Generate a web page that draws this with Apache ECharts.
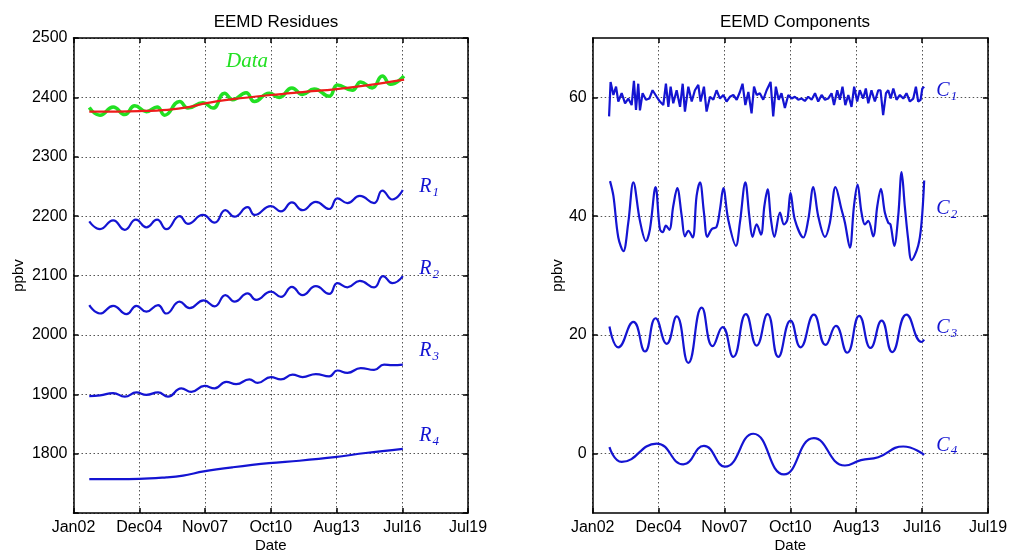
<!DOCTYPE html>
<html>
<head>
<meta charset="utf-8">
<script src="https://cdn.jsdelivr.net/npm/echarts@6/dist/echarts.min.js"></script>
<style>
html,body{margin:0;padding:0;background:#fff;}
#c{width:1010px;height:553px;}
</style>
</head>
<body>
<div id="c"></div>
<script>
// x axis: months since Jan 2002; tick every 35 months
const tickLabels = ['Jan02','Dec04','Nov07','Oct10','Aug13','Jul16','Jul19'];

// Left panel: EEMD residues (ppbv)
const dataObs = [[8.4,2383],[14.1,2370],[21.1,2384],[27.3,2371],[32.6,2386],[38.8,2376],[44.5,2384],[48.5,2370],[56.5,2393],[60.9,2382],[68.9,2391],[74.2,2382],[80.4,2407],[84.8,2396],[91.9,2408],[96.3,2393],[104.2,2407],[109.5,2400],[116.3,2416],[121.9,2405],[128.1,2414],[136.1,2402],[140.5,2421],[148.4,2412],[152.9,2426],[159.0,2416],[164.4,2436],[168.8,2422],[175.9,2436]];
const trend = [[8.4,2376],[35,2377],[50,2379],[62,2384],[70,2390],[85,2397],[105,2404],[122,2409],[140,2414],[158,2421],[176,2430]];
const R1 = [[8.4,2191],[14.1,2178],[21.1,2193],[27.3,2177],[33.2,2194],[38.8,2181],[44.5,2194],[49.4,2178],[56.5,2200],[60.9,2187],[68.9,2202],[75.1,2189],[80.9,2210],[85.7,2199],[92.7,2215],[96.3,2202],[105.1,2217],[110.4,2208],[116.3,2223],[121.9,2210],[129,2224],[136.1,2212],[140.5,2230],[145.8,2222],[152.4,2234],[160,2222],[164.4,2243],[169.7,2228],[175.3,2244]];
const R2 = [[8.4,2050],[14.1,2036],[21.1,2049],[28.2,2035],[33.5,2049],[38.8,2039],[45,2050],[49.4,2036],[56.5,2056],[61.8,2045],[69.3,2058],[75.1,2048],[80.9,2067],[85.7,2056],[92.7,2070],[97.2,2059],[105.1,2073],[110.4,2064],[116.3,2081],[121.9,2067],[129,2082],[136.1,2069],[140.5,2087],[145.8,2080],[152.4,2091],[160,2080],[164.8,2099],[169.7,2087],[175.3,2099]];
const R3 = [[8.4,1897],[14.1,1898],[21.1,1902],[27.3,1896],[33.5,1903],[38.8,1899],[45,1903],[50.3,1896],[57.4,1910],[62.7,1904],[69.8,1914],[75.1,1910],[81.3,1921],[86.6,1917],[93.6,1925],[98,1919],[105.1,1929],[110.4,1925],[116.6,1933],[121.9,1929],[129,1934],[136.1,1930],[140.5,1940],[145.8,1936],[152.9,1944],[160,1941],[165.3,1950],[169.7,1949],[175.3,1950]];
const R4 = [[8.4,1757],[35,1757.5],[49.4,1760],[58.3,1763],[69.3,1770],[84.8,1777],[104.1,1784],[120.2,1788],[139,1794],[155.5,1801],[175.3,1808]];

// Right panel: EEMD components (offset for display)
const c1Months = [8.7,9.5,11.0,12.4,13.6,15.4,17.2,18.9,20.7,21.9,23.0,24.2,25.1,26.5,28.3,30.1,31.8,34.0,35.7,37.5,38.9,40.2,41.4,42.8,44.6,46.4,47.8,49.0,50.8,52.6,54.3,56.1,57.3,59.1,60.5,62.3,64.1,65.8,67.6,69.4,71.1,72.9,74.7,76.5,78.2,79.6,81.1,82.7,84.4,85.7,87.1,88.8,90.6,92.4,94.5,95.9,97.3,98.8,100.3,102.1,103.9,105.7,107.4,109.2,111.0,112.7,114.5,116.3,118.1,119.8,121.6,123.4,125.1,126.9,128.2,129.9,131.3,132.7,134.2,135.8,137.5,138.9,140.5,141.9,143.7,145.1,146.4,148.1,149.9,151.7,152.9,154.3,155.8,157.0,158.3,159.7,161.4,163.2,165.0,166.7,168.5,170.3,171.7,172.9,174.2,175.1,176.1];
const c1Values = [56.8,62.6,60.4,61.8,59.3,60.7,59.0,59.8,58.7,62.8,57.9,62.3,57.8,60.7,59.6,59.8,61.2,60.1,59.3,58.7,62.3,58.4,61.8,59.0,61.2,58.4,62.3,57.6,61.8,59.3,61.2,62.1,59.3,61.8,57.6,60.1,59.6,61.2,59.8,60.4,59.3,60.1,60.4,59.6,60.9,62.3,58.7,60.9,57.3,61.8,60.4,60.7,59.6,61.2,62.6,56.8,61.8,59.6,60.7,58.2,60.4,59.8,60.1,59.6,59.8,59.4,60.1,59.6,60.7,59.3,60.4,59.6,59.8,60.7,58.7,61.2,59.6,61.8,58.7,60.4,58.4,61.8,59.3,61.2,59.8,61.5,59.0,61.2,59.3,61.2,61.2,57.0,60.7,61.2,59.8,61.5,59.6,60.4,59.8,60.7,59.3,59.8,61.8,59.3,59.6,61.5,61.8];
const C2 = [[9.2,45.9],[11.0,43.4],[13.6,36.4],[16.3,34.1],[18.9,38.9],[21.6,45.7],[25.1,39.2],[28.3,35.8],[30.4,37.8],[33.4,44.9],[35.7,37.8],[37.2,37.3],[38.9,38.4],[40.7,37.7],[42.8,41.7],[44.9,44.7],[47.3,40.0],[49.0,36.6],[50.8,37.5],[53.1,36.4],[55.2,43.4],[57.0,45.7],[59.1,40.6],[60.9,36.5],[63.2,37.8],[65.8,38.2],[67.6,41.1],[69.4,44.7],[72.0,39.4],[76.1,35.0],[78.2,38.9],[81.1,45.7],[83.2,40.0],[84.9,36.5],[87.1,38.6],[89.4,36.9],[91.2,41.7],[92.9,44.5],[94.7,39.4],[96.5,36.5],[99.5,40.6],[101.6,38.6],[103.4,39.4],[105.1,43.9],[107.4,39.4],[111.9,36.4],[114.5,39.4],[117.2,44.9],[119.8,40.0],[123.4,36.5],[126.0,38.9],[129.0,44.9],[132.2,41.1],[134.0,38.9],[136.6,34.7],[138.8,41.7],[140.7,45.3],[142.8,40.6],[144.6,38.6],[146.4,39.2],[149.0,36.6],[151.2,41.7],[153.1,44.6],[155.2,40.6],[157.0,38.9],[158.2,38.6],[160.2,35.0],[162.3,40.0],[164.1,47.4],[165.8,41.7],[167.6,36.1],[169.4,32.6],[172.9,35.0],[174.7,38.9],[176.1,46.0]];
const C3 = [[8.9,21.4],[13.6,17.9],[21.6,22.2],[27.8,17.2],[33.4,22.8],[39.3,18.5],[44.6,23.1],[50.8,15.3],[57.9,24.6],[63.7,18.1],[69.0,21.3],[74.7,16.3],[81.4,23.5],[87.1,18.2],[92.9,23.5],[98.6,16.3],[105.1,22.4],[110.4,17.9],[117.5,23.4],[123.7,18.3],[129.2,21.5],[135.2,17.0],[141.6,23.2],[147.6,17.8],[153.5,22.4],[159.1,17.1],[166.7,23.4],[174.7,18.8],[176.1,19.2]];
const C4 = [[8.9,1.1],[15.4,-1.4],[34.0,1.7],[48.1,-1.8],[59.1,1.3],[70.3,-2.2],[85.3,3.35],[101.6,-3.5],[117.5,2.6],[134.0,-2.0],[142.5,-1.1],[151.7,-0.6],[165.0,1.2],[176.1,-0.2]];

const rightTicks = [0,20,40,60];

const C1 = c1Months.map((m,i)=>[m,c1Values[i]]);

const BLUE = '#1414d2';
const GREEN = '#22e022';
const RED = '#ee1c1c';
const SANS = 'Liberation Sans, Arial, sans-serif';
const SERIF = 'Liberation Serif, Times New Roman, serif';
const gridLine = {show:true, lineStyle:{type:[1.5,2.5], color:'#555', width:1}};
const axLine = {show:true, onZero:false, lineStyle:{color:'#000', width:1.5}};
const axTick = {show:true, inside:true, length:5, lineStyle:{color:'#000', width:1.5}};

function xAx(g, pos){
  return {
    type:'value', gridIndex:g, min:0, max:210, interval:35, position:pos,
    axisLine:axLine, axisTick:axTick,
    axisLabel:{show:pos==='bottom', color:'#000', fontSize:16, fontFamily:SANS, margin:7,
      formatter:v=>tickLabels[Math.round(v/35)]},
    splitLine: pos==='bottom' ? gridLine : {show:false},
    name: pos==='bottom' ? 'Date' : '', nameLocation:'middle', nameGap:25, nameMoveOverlap:false,
    nameTextStyle:{color:'#000', fontSize:15, fontFamily:SANS}
  };
}
function yAx(g, pos, min, max, interval, ticks, gap){
  const o = {
    type:'value', gridIndex:g, min:min, max:max, position:pos,
    axisLine:axLine,
    axisTick:Object.assign({}, axTick),
    axisLabel:{show:pos==='left', color:'#000', fontSize:16, fontFamily:SANS, margin:6},
    splitLine: pos==='left' ? gridLine : {show:false},
    name: pos==='left' ? 'ppbv' : '', nameLocation:'middle', nameGap:gap || 30, nameRotate:90, nameMoveOverlap:false,
    nameTextStyle:{color:'#000', fontSize:15, fontFamily:SANS}
  };
  if (interval) { o.interval = interval; o.axisLabel.formatter = v => (v===min ? '' : String(v)); }
  else { o.axisTick.customValues = ticks; o.axisLabel.customValues = ticks; }
  return o;
}
function line(name, data, color, width, xi, yi, smooth){
  return {name, type:'line', data, xAxisIndex:xi, yAxisIndex:yi, showSymbol:false, symbol:'none',
    smooth: smooth, lineStyle:{color, width}, silent:true, z:3};
}
function lbl(pt, main, sub, color, xi, yi, size){
  return {type:'scatter', xAxisIndex:xi, yAxisIndex:yi, data:[pt], symbolSize:1, silent:true,
    itemStyle:{color:'transparent', opacity:1}, z:5,
    label:{show:true, position:'right', distance:0, opacity:1,
      formatter: sub ? '{m|'+main+'}{s|'+sub+'}' : '{m|'+main+'}',
      rich:{
        m:{fontFamily:SERIF, fontStyle:'italic', fontSize:size||20, color, lineHeight:22, verticalAlign:'top'},
        s:{fontFamily:SERIF, fontStyle:'italic', fontSize:13, color, lineHeight:13, verticalAlign:'bottom', padding:[13,0,0,1]}
      }}};
}

const chart = echarts.init(document.getElementById('c'), null, {renderer:'canvas'});
chart.setOption({
  animation:false,
  backgroundColor:'#fff',
  title:[
    {text:'EEMD Residues', left:271, top:9, textAlign:'center', textStyle:{fontSize:17, fontWeight:'normal', color:'#000', fontFamily:SANS}},
    {text:'EEMD Components', left:790, top:9, textAlign:'center', textStyle:{fontSize:17, fontWeight:'normal', color:'#000', fontFamily:SANS}}
  ],
  grid:[
    {left:73.5, top:38, width:394.5, height:475, outerBoundsMode:'none'},
    {left:592.7, top:38, width:395.3, height:475, outerBoundsMode:'none'}
  ],
  xAxis:[xAx(0,'bottom'), xAx(0,'top'), xAx(1,'bottom'), xAx(1,'top')],
  yAxis:[
    yAx(0,'left',1700,2500,100,null,47), yAx(0,'right',1700,2500,100),
    yAx(1,'left',-10,70,null,rightTicks,27), yAx(1,'right',-10,70,null,rightTicks)
  ],
  series:[
    line('Data', dataObs, GREEN, 3.5, 0, 0, 0.5),
    line('Trend', trend, RED, 2.2, 0, 0, 0.4),
    line('R1', R1, BLUE, 2.2, 0, 0, 0.5),
    line('R2', R2, BLUE, 2.2, 0, 0, 0.5),
    line('R3', R3, BLUE, 2.2, 0, 0, 0.5),
    line('R4', R4, BLUE, 2.2, 0, 0, 0.4),
    line('C1', C1, BLUE, 2.2, 2, 2, false),
    line('C2', C2, BLUE, 2.2, 2, 2, 0.35),
    line('C3', C3, BLUE, 2.2, 2, 2, 0.5),
    line('C4', C4, BLUE, 2.2, 2, 2, 0.5),
    lbl([80.9,2459.6],'Data',null,GREEN,0,0,21),
    lbl([183.8,2247.5],'R','1',BLUE,0,0),
    lbl([183.8,2109.4],'R','2',BLUE,0,0),
    lbl([183.8,1971.4],'R','3',BLUE,0,0),
    lbl([183.8,1828],'R','4',BLUE,0,0),
    lbl([182.3,60.9],'C','1',BLUE,2,2),
    lbl([182.3,41.1],'C','2',BLUE,2,2),
    lbl([182.3,21.0],'C','3',BLUE,2,2),
    lbl([182.3,1.2],'C','4',BLUE,2,2)
  ]
});
</script>
</body>
</html>
